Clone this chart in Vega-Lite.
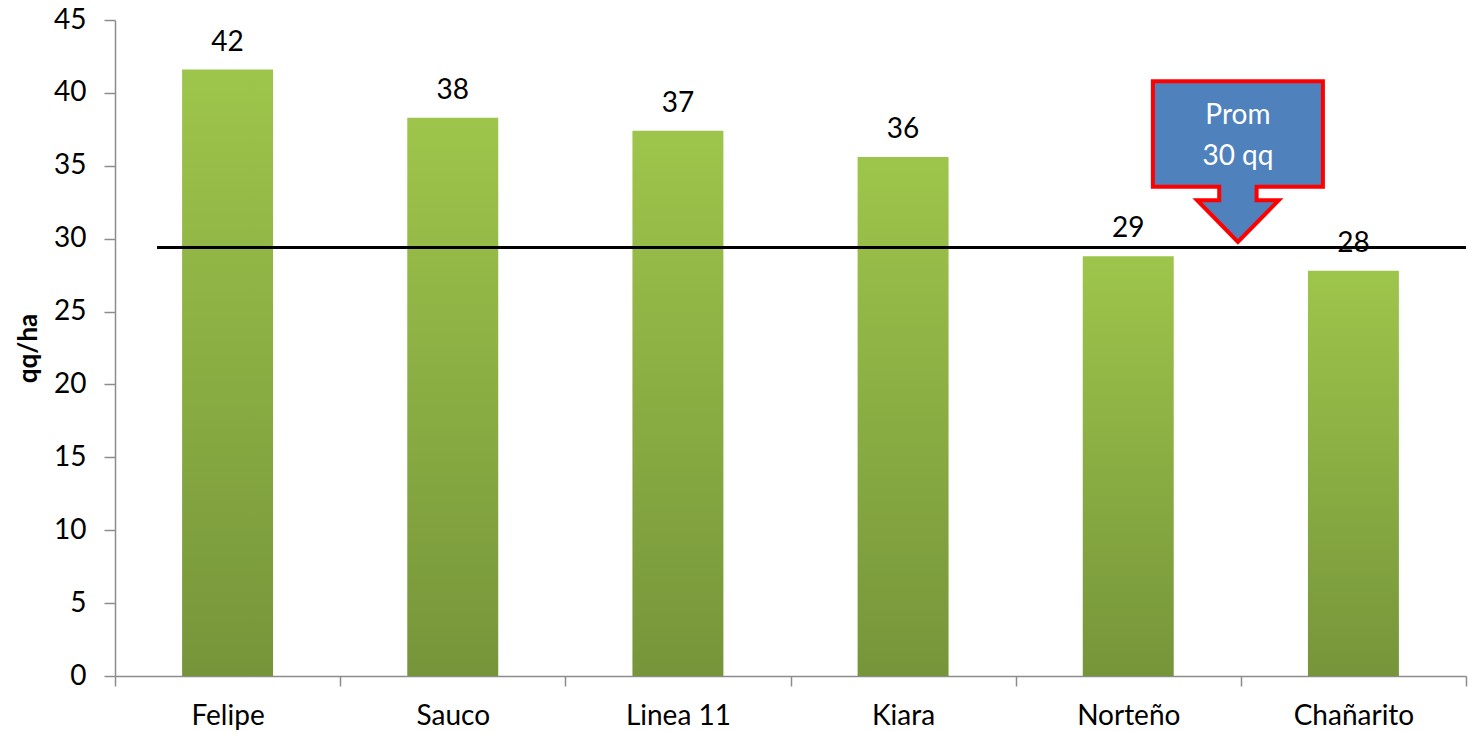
{
  "$schema": "https://vega.github.io/schema/vega-lite/v6.json",
  "width": 1351,
  "height": 656,
  "autosize": {"type": "none"},
  "padding": {"left": 115, "top": 20, "right": 2, "bottom": 56},
  "background": "white",
  "config": {
    "view": {"stroke": null},
    "font": "Lato",
    "axis": {
      "domainColor": "#8c8c8c",
      "domainWidth": 1.5,
      "tickColor": "#8c8c8c",
      "tickWidth": 1.5,
      "labelFont": "Lato",
      "labelFontSize": 28,
      "labelColor": "#000000",
      "titleFont": "Lato",
      "titleColor": "#000000",
      "grid": false
    }
  },
  "datasets": {
    "rend": [
      {"variedad": "Felipe", "qq_ha": 41.6},
      {"variedad": "Sauco", "qq_ha": 38.3},
      {"variedad": "Linea 11", "qq_ha": 37.4},
      {"variedad": "Kiara", "qq_ha": 35.6},
      {"variedad": "Norteño", "qq_ha": 28.8},
      {"variedad": "Chañarito", "qq_ha": 27.8}
    ],
    "prom": [
      {"promedio": 29.4, "texto": "Prom\n30 qq", "desde": "Felipe", "junto": "Norteño", "centro": 35.26, "texto_y": 38.41}
    ]
  },
  "encoding": {
    "x": {
      "field": "variedad",
      "type": "nominal",
      "scale": {"domain": ["Felipe", "Sauco", "Linea 11", "Kiara", "Norteño", "Chañarito"], "paddingInner": 0, "paddingOuter": 0},
      "axis": {"title": null, "labelAngle": 0, "tickBand": "extent", "tickSize": 10, "labelPadding": 16}
    },
    "y": {
      "field": "qq_ha",
      "type": "quantitative",
      "scale": {"domain": [0, 45], "nice": false},
      "axis": {"title": "qq/ha", "titleFontSize": 26, "titleFontWeight": "bold", "values": [0, 5, 10, 15, 20, 25, 30, 35, 40, 45], "tickSize": 11, "labelPadding": 18, "titlePadding": 12}
    }
  },
  "layer": [
    {
      "data": {"name": "rend"},
      "mark": {
        "type": "bar",
        "width": {"band": 0.404},
        "color": {"gradient": "linear", "x1": 0, "y1": 0, "x2": 0, "y2": 1, "stops": [{"offset": 0, "color": "#9ec54b"}, {"offset": 1, "color": "#76953a"}]}
      }
    },
    {
      "data": {"name": "rend"},
      "mark": {"type": "text", "baseline": "alphabetic", "dy": -19, "fontSize": 28, "color": "#000000", "font": "Lato"},
      "encoding": {"text": {"field": "qq_ha", "type": "quantitative", "format": ".0f"}}
    },
    {
      "data": {"name": "prom"},
      "mark": {"type": "rule", "color": "#000000", "strokeWidth": 3},
      "encoding": {
        "x": {"field": "desde", "type": "nominal", "bandPosition": 0.1865},
        "x2": {"value": "width"},
        "y": {"field": "promedio", "type": "quantitative"}
      }
    },
    {
      "data": {"name": "prom"},
      "mark": {
        "type": "point",
        "filled": true,
        "shape": "M-1,-0.95 L1,-0.95 L1,0.29 L0.22,0.29 L0.22,0.45 L0.48,0.45 L0,0.94 L-0.48,0.45 L-0.22,0.45 L-0.22,0.29 L-1,0.29 Z",
        "size": 28900,
        "fill": "#4f81bd",
        "fillOpacity": 1,
        "stroke": "#ff0000",
        "strokeWidth": 4,
        "strokeJoin": "miter",
        "opacity": 1
      },
      "encoding": {
        "x": {"field": "junto", "type": "nominal", "bandPosition": 0.987},
        "y": {"field": "centro", "type": "quantitative"}
      }
    },
    {
      "data": {"name": "prom"},
      "mark": {"type": "text", "lineBreak": "\n", "lineHeight": 41, "fontSize": 28, "color": "#ffffff", "baseline": "middle", "align": "center", "font": "Lato"},
      "encoding": {
        "x": {"field": "junto", "type": "nominal", "bandPosition": 0.987},
        "y": {"field": "texto_y", "type": "quantitative"},
        "text": {"field": "texto"}
      }
    }
  ]
}
